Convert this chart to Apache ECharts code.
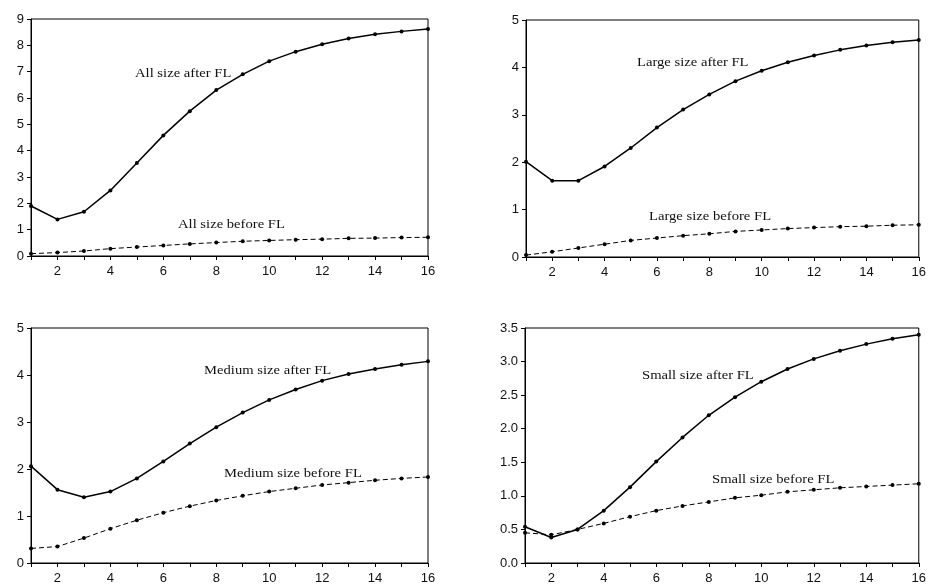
<!DOCTYPE html>
<html>
<head>
<meta charset="utf-8">
<script src="https://cdn.jsdelivr.net/npm/echarts@6/dist/echarts.min.js"></script>
<style>html,body{margin:0;padding:0;background:#fff;}#c{width:929px;height:585px;}</style>
</head>
<body>
<div id="c"></div>
<script>
const periods = [1,2,3,4,5,6,7,8,9,10,11,12,13,14,15,16];

const allAfter    = [1.90,1.39,1.68,2.49,3.53,4.58,5.50,6.30,6.90,7.40,7.76,8.04,8.26,8.42,8.53,8.62];
const allBefore   = [0.09,0.13,0.19,0.28,0.34,0.40,0.46,0.51,0.56,0.59,0.62,0.64,0.67,0.68,0.70,0.71];
const largeAfter  = [2.01,1.61,1.61,1.91,2.30,2.73,3.11,3.43,3.71,3.93,4.11,4.25,4.37,4.46,4.53,4.58];
const largeBefore = [0.04,0.11,0.19,0.27,0.35,0.40,0.45,0.49,0.54,0.57,0.60,0.62,0.64,0.65,0.67,0.68];
const mediumAfter = [2.06,1.56,1.40,1.52,1.80,2.16,2.54,2.89,3.20,3.47,3.69,3.88,4.02,4.13,4.22,4.29];
const mediumBefore= [0.31,0.35,0.53,0.73,0.91,1.07,1.21,1.33,1.43,1.52,1.59,1.66,1.71,1.76,1.80,1.83];
const smallAfter  = [0.54,0.38,0.50,0.78,1.13,1.51,1.87,2.20,2.47,2.70,2.89,3.04,3.16,3.26,3.34,3.40];
const smallBefore = [0.45,0.42,0.50,0.59,0.69,0.78,0.85,0.91,0.97,1.01,1.06,1.09,1.12,1.14,1.16,1.18];

const panelLabels = [
  ["All size after FL", "All size before FL"],
  ["Large size after FL", "Large size before FL"],
  ["Medium size after FL", "Medium size before FL"],
  ["Small size after FL", "Small size before FL"]
];
const yMax = [9, 5, 5, 3.5];
const yInterval = [1, 1, 1, 0.5];
const yDecimals = [0, 0, 0, 1];

const afterSeries = [allAfter, largeAfter, mediumAfter, smallAfter];
const beforeSeries = [allBefore, largeBefore, mediumBefore, smallBefore];

const grids = [
  {left: 31, top: 19, width: 397, height: 237},
  {left: 526, top: 20, width: 397, height: 237},
  {left: 31, top: 328, width: 397, height: 238},
  {left: 525, top: 328, width: 398, height: 238}
];
const labelPos = [
  [[135, 74], [178, 225]],
  [[637, 63], [649, 217]],
  [[204, 371], [224, 474]],
  [[642, 376], [712, 480]]
];

const axisFont = {fontFamily: '"Liberation Sans", Arial, sans-serif', fontSize: 13, color: '#111'};

const xAxes = [], yAxes = [], series = [], graphics = [];
grids.forEach((g, i) => {
  g.show = true; g.borderColor = '#000'; g.borderWidth = 1; g.backgroundColor = 'transparent';
  g.containLabel = false;
  xAxes.push({
    type: 'value', gridIndex: i, min: 1, max: 16, interval: 1,
    axisLine: {show: true, onZero: false, lineStyle: {color: '#000', width: 1}},
    axisTick: {show: true, inside: false, length: 4, lineStyle: {color: '#000'}},
    axisLabel: Object.assign({margin: 9, showMinLabel: true, showMaxLabel: true, hideOverlap: false,
      formatter: v => (v % 2 === 0 ? String(v) : '')}, axisFont),
    splitLine: {show: false}
  });
  yAxes.push({
    type: 'value', gridIndex: i, min: 0, max: yMax[i], interval: yInterval[i],
    axisLine: {show: true, lineStyle: {color: '#000', width: 1}},
    axisTick: {show: true, inside: false, length: 4, lineStyle: {color: '#000'}},
    axisLabel: Object.assign({margin: 7, formatter: v => v.toFixed(yDecimals[i])}, axisFont),
    splitLine: {show: false}
  });
  series.push({
    type: 'line', xAxisIndex: i, yAxisIndex: i,
    data: periods.map((p, k) => [p, afterSeries[i][k]]),
    symbol: 'circle', symbolSize: 4, showAllSymbol: true,
    itemStyle: {color: '#000'},
    lineStyle: {color: '#000', width: 1.5, type: 'solid'},
    silent: true, animation: false, z: 3
  });
  series.push({
    type: 'line', xAxisIndex: i, yAxisIndex: i,
    data: periods.map((p, k) => [p, beforeSeries[i][k]]),
    symbol: 'circle', symbolSize: 4, showAllSymbol: true,
    itemStyle: {color: '#000'},
    lineStyle: {color: '#000', width: 1, type: [5, 3]},
    silent: true, animation: false, z: 2
  });
  panelLabels[i].forEach((t, j) => {
    graphics.push({
      type: 'text', x: labelPos[i][j][0], y: labelPos[i][j][1], scaleX: 1.22,
      style: {text: t, font: '12px "Liberation Serif", "Times New Roman", serif', fill: '#111', verticalAlign: 'middle'},
      z: 10
    });
  });
});

const chart = echarts.init(document.getElementById('c'), null, {renderer: 'canvas'});
chart.setOption({
  backgroundColor: '#fff',
  animation: false,
  grid: grids,
  xAxis: xAxes,
  yAxis: yAxes,
  series: series,
  graphic: graphics
});
</script>
</body>
</html>
